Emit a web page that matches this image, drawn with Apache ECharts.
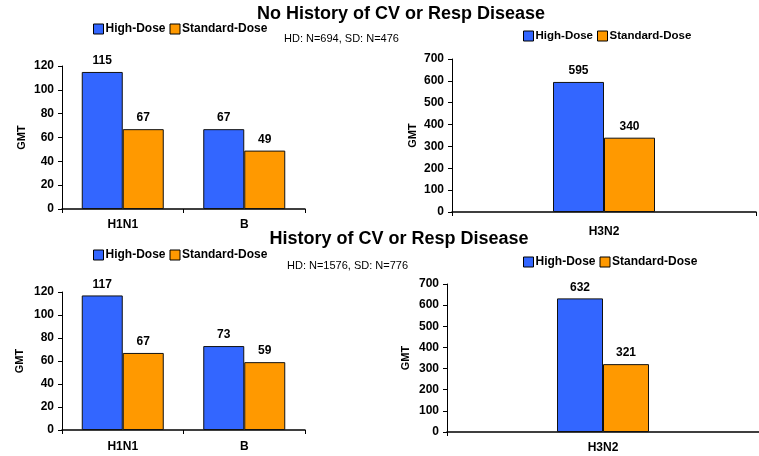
<!DOCTYPE html>
<html><head><meta charset="utf-8">
<script src="https://cdn.jsdelivr.net/npm/echarts@6/dist/echarts.min.js"></script>
<style>html,body{margin:0;padding:0;background:#fff}#c{width:759px;height:456px}</style>
</head><body><div id="c"></div>
<script>
const seriesNames = ['High-Dose', 'Standard-Dose'];
const catsLeft = ['H1N1', 'B'];
const catsRight = ['H3N2'];
const noHistHD = [115, 67];
const noHistSD = [67, 49];
const noHistH3HD = [595];
const noHistH3SD = [340];
const histHD = [117, 73];
const histSD = [67, 59];
const histH3HD = [632];
const histH3SD = [321];
const leftTicks = {min: 0, max: 120, interval: 20};
const rightTicks = {min: 0, max: 700, interval: 100};
const titles = ['No History of CV or Resp Disease', 'History of CV or Resp Disease'];
const subtitles = ['HD: N=694, SD: N=476', 'HD: N=1576, SD: N=776'];

const FONT = '"Liberation Sans", Arial, sans-serif';
const BLUE = '#3366FF', ORANGE = '#FF9900';
const chart = echarts.init(document.getElementById('c'));

const grids = [
  {left: 62, top: 66, width: 243, height: 143},
  {left: 452, top: 59, width: 304, height: 153},
  {left: 62, top: 292, width: 243, height: 138},
  {left: 447, top: 284, width: 322, height: 148}
];
const cats = [catsLeft, catsRight, catsLeft, catsRight];
const ticks = [leftTicks, rightTicks, leftTicks, rightTicks];
const dataHD = [noHistHD, noHistH3HD, histHD, histH3HD];
const dataSD = [noHistSD, noHistH3SD, histSD, histH3SD];
const barW = [41, 51, 41, 46];
const nameGaps = [35, 34, 37, 36];
const xMargins = [10, 14, 11, 10];

const xAxis = [], yAxis = [], series = [];
grids.forEach((g, i) => {
  xAxis.push({
    type: 'category', gridIndex: i, data: cats[i],
    axisLine: {lineStyle: {color: '#000', width: 1.5}},
    axisTick: {show: true, alignWithLabel: false, length: 4, lineStyle: {color: '#000'}},
    axisLabel: {color: '#000', fontWeight: 'bold', fontSize: 12, fontFamily: FONT, margin: xMargins[i]}
  });
  yAxis.push({
    type: 'value', gridIndex: i, min: ticks[i].min, max: ticks[i].max, interval: ticks[i].interval,
    name: 'GMT', nameLocation: 'middle', nameGap: nameGaps[i], nameRotate: 90,
    nameTextStyle: {color: '#000', fontWeight: 'bold', fontSize: 11, fontFamily: FONT},
    axisLine: {show: true, lineStyle: {color: '#000', width: 1}},
    axisTick: {show: true, length: 4, lineStyle: {color: '#000'}},
    splitLine: {show: false},
    axisLabel: {color: '#000', fontWeight: 'bold', fontSize: 12, fontFamily: FONT, margin: 8}
  });
  [dataHD[i], dataSD[i]].forEach((d, k) => {
    series.push({
      type: 'bar', name: seriesNames[k], xAxisIndex: i, yAxisIndex: i, data: d,
      barWidth: barW[i], barGap: '0%',
      itemStyle: {color: k === 0 ? BLUE : ORANGE, borderColor: '#111', borderWidth: 1},
      label: {show: true, position: 'top', distance: 5, color: '#000', fontWeight: 'bold', fontSize: 12, fontFamily: FONT},
      animation: false
    });
  });
});

const legendPos = [
  {left: 93, top: 23, size: 12},
  {left: 523, top: 30, size: 11.5},
  {left: 93, top: 249, size: 12},
  {left: 523, top: 256, size: 12}
];
const legends = legendPos.map((p) => ({
  left: p.left, top: p.top, itemWidth: 10, itemHeight: 10, itemGap: 4,
  data: seriesNames.map(n => ({name: n, icon: 'rect'})),
  textStyle: {color: '#000', fontWeight: 'bold', fontSize: p.size, fontFamily: FONT, padding: [0, 0, 0, -3]},
  itemStyle: {borderColor: '#000', borderWidth: 1},
  padding: 0
}));

chart.setOption({
  backgroundColor: '#fff',
  animation: false,
  title: [
    {text: titles[0], left: 401, top: 5, padding: 0, textAlign: 'center', textStyle: {fontSize: 18, fontWeight: 'bold', color: '#000', fontFamily: FONT}},
    {text: subtitles[0], left: 284, top: 33, padding: 0, textStyle: {fontSize: 11, fontWeight: 'normal', color: '#000', fontFamily: FONT}},
    {text: titles[1], left: 399, top: 230, padding: 0, textAlign: 'center', textStyle: {fontSize: 18, fontWeight: 'bold', color: '#000', fontFamily: FONT}},
    {text: subtitles[1], left: 287, top: 260, padding: 0, textStyle: {fontSize: 11, fontWeight: 'normal', color: '#000', fontFamily: FONT}}
  ],
  legend: legends,
  grid: grids,
  xAxis, yAxis, series
});
</script></body></html>
